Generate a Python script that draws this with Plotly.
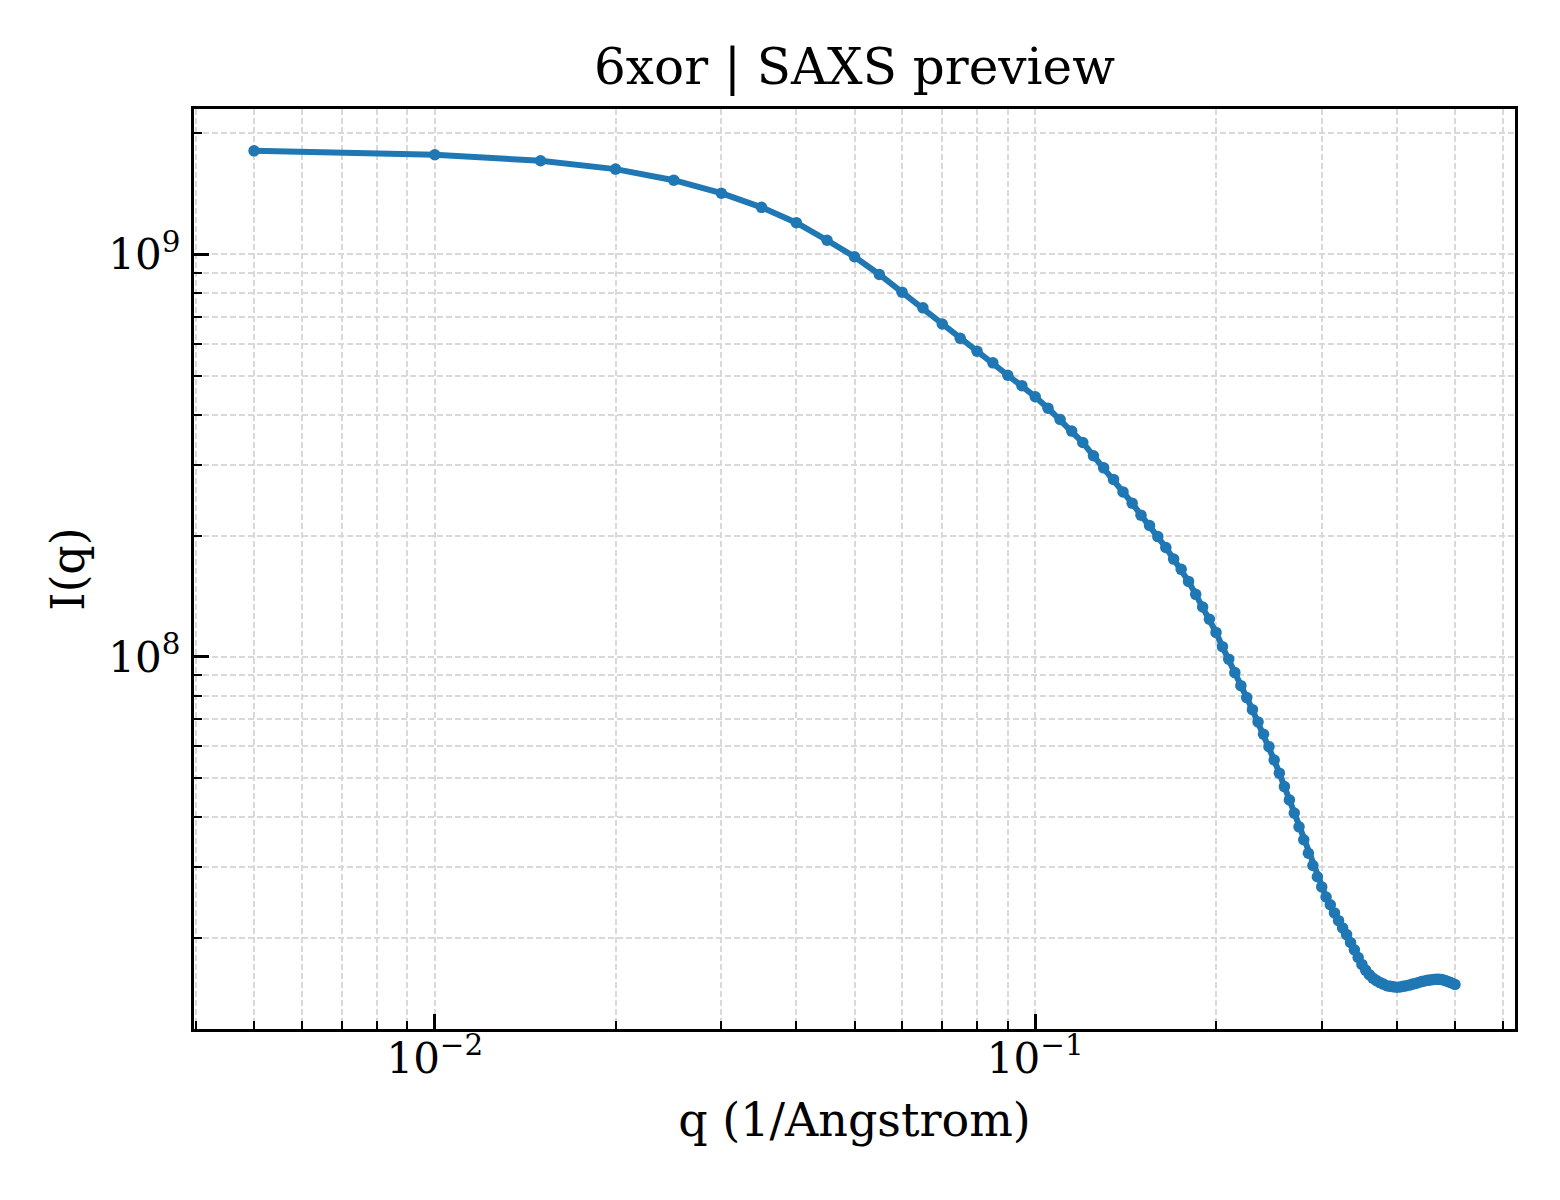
import numpy as np
import plotly.graph_objects as go


# SAXS profile of 6xor, read from the preview
q = [0.005, 0.010, 0.015, 0.020, 0.025, 0.030, 0.035, 0.040, 0.045, 0.050,
     0.055, 0.060, 0.065, 0.070, 0.075, 0.080, 0.085, 0.090, 0.095, 0.100,
     0.105, 0.110, 0.115, 0.120, 0.125, 0.130, 0.135, 0.140, 0.145, 0.150,
     0.155, 0.160, 0.165, 0.170, 0.175, 0.180, 0.185, 0.190, 0.195, 0.200,
     0.205, 0.210, 0.215, 0.220, 0.225, 0.230, 0.235, 0.240, 0.245, 0.250,
     0.255, 0.260, 0.265, 0.270, 0.275, 0.280, 0.285, 0.290, 0.295, 0.300,
     0.305, 0.310, 0.315, 0.320, 0.325, 0.330, 0.335, 0.340, 0.345, 0.350,
     0.355, 0.360, 0.365, 0.370, 0.375, 0.380, 0.385, 0.390, 0.395, 0.400,
     0.405, 0.410, 0.415, 0.420, 0.425, 0.430, 0.435, 0.440, 0.445, 0.450,
     0.455, 0.460, 0.465, 0.470, 0.475, 0.480, 0.485, 0.490, 0.495, 0.500]

intensity = [1.81e9, 1.77e9, 1.71e9, 1.63e9, 1.53e9, 1.42e9, 1.31e9, 1.20e9, 1.085e9, 9.87e8,
             8.92e8, 8.06e8, 7.37e8, 6.72e8, 6.19e8, 5.75e8, 5.38e8, 5.01e8, 4.72e8, 4.43e8,
             4.15e8, 3.89e8, 3.64e8, 3.41e8, 3.16e8, 2.95e8, 2.76e8, 2.57e8, 2.41e8, 2.25e8,
             2.12e8, 1.99e8, 1.87e8, 1.75e8, 1.65e8, 1.54e8, 1.43e8, 1.33e8, 1.24e8, 1.15e8,
             1.06e8, 9.87e7, 9.14e7, 8.48e7, 7.92e7, 7.39e7, 6.89e7, 6.42e7, 5.98e7, 5.54e7,
             5.14e7, 4.76e7, 4.41e7, 4.09e7, 3.78e7, 3.51e7, 3.25e7, 3.03e7, 2.84e7, 2.68e7,
             2.53e7, 2.42e7, 2.31e7, 2.21e7, 2.12e7, 2.04e7, 1.95e7, 1.87e7, 1.79e7, 1.72e7,
             1.665e7, 1.622e7, 1.590e7, 1.568e7, 1.550e7, 1.537e7, 1.523e7, 1.517e7, 1.513e7, 1.510e7,
             1.512e7, 1.517e7, 1.522e7, 1.528e7, 1.537e7, 1.543e7, 1.552e7, 1.559e7, 1.565e7, 1.570e7,
             1.574e7, 1.577e7, 1.579e7, 1.579e7, 1.577e7, 1.572e7, 1.563e7, 1.554e7, 1.544e7, 1.534e7]

x_ticks = [0.01, 0.1]
x_ticktext = ["10<sup>\u22122</sup>", "10<sup>\u22121</sup>"]
y_ticks = [1e8, 1e9]
y_ticktext = ["10<sup>8</sup>", "10<sup>9</sup>"]


def log_range(vals, pad=0.05):
    lo, hi = np.log10(min(vals)), np.log10(max(vals))
    span = hi - lo
    return [lo - pad * span, hi + pad * span]


x_minor = [m * 10.0 ** e for e in (-3, -2, -1) for m in range(2, 10)]
y_minor = [m * 10.0 ** e for e in (7, 8, 9) for m in range(2, 10)]

fig = go.Figure()
fig.add_trace(go.Scatter(
    x=q, y=intensity, mode="lines+markers",
    line=dict(color="#1f77b4", width=6),
    marker=dict(color="#1f77b4", size=11.5),
    showlegend=False
))

# the page puts the figure 8px in from the corner, so the canvas is a bit smaller
grid_color = "#d9d9d9"
fig.update_layout(
    width=1544, height=1184,
    paper_bgcolor="white", plot_bgcolor="white",
    font=dict(family="DejaVu Serif", size=42, color="black"),
    margin=dict(l=186, r=37, t=101, b=163),
    title=dict(text="6xor | SAXS preview", font=dict(size=50),
               x=0.5, xref="paper", xanchor="center",
               y=1, yref="paper", yanchor="bottom", pad=dict(b=25)),
)
fig.update_xaxes(
    type="log", range=log_range(q),
    title=dict(text="q (1/Angstrom)", font=dict(size=46), standoff=23),
    tickvals=x_ticks, ticktext=x_ticktext, tickfont=dict(size=42),
    ticks="inside", ticklen=15, tickwidth=3, tickcolor="black",
    ticklabelstandoff=-10,
    showline=True, linewidth=3.3, linecolor="black", mirror=True,
    showgrid=True, gridcolor=grid_color, gridwidth=1.8, griddash="6px,3px",
    zeroline=False,
    minor=dict(tickvals=x_minor, ticks="inside", ticklen=8, tickwidth=2.4,
               tickcolor="black", showgrid=True, gridcolor=grid_color,
               gridwidth=1.8, griddash="6px,3px"),
)
fig.update_yaxes(
    type="log", range=log_range(intensity),
    title=dict(text="I(q)", font=dict(size=46), standoff=10),
    tickvals=y_ticks, ticktext=y_ticktext, tickfont=dict(size=42),
    ticks="inside", ticklen=15, tickwidth=3, tickcolor="black",
    ticklabelstandoff=2,
    showline=True, linewidth=3.3, linecolor="black", mirror=True,
    showgrid=True, gridcolor=grid_color, gridwidth=1.8, griddash="6px,3px",
    zeroline=False,
    minor=dict(tickvals=y_minor, ticks="inside", ticklen=8, tickwidth=2.4,
               tickcolor="black", showgrid=True, gridcolor=grid_color,
               gridwidth=1.8, griddash="6px,3px"),
)

fig.write_html("out.html")
